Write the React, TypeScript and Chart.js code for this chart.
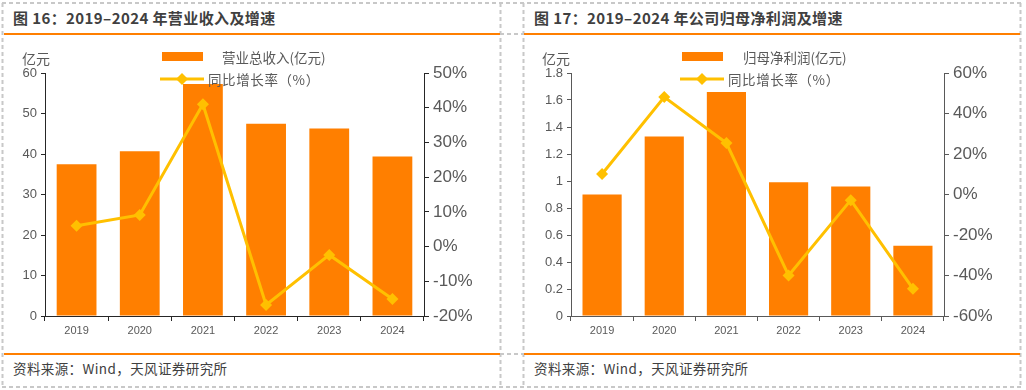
import React, { useEffect, useRef } from "react";
import { Chart, registerables } from "chart.js";

Chart.register(...registerables);

const years = ["2019", "2020", "2021", "2022", "2023", "2024"];
const revenue = [37.5, 40.7, 57.3, 47.5, 46.3, 39.4];
const revenueGrowth = [6.0, 9.1, 41.0, -16.8, -2.4, -15.1];
const profit = [0.9, 1.33, 1.66, 0.99, 0.96, 0.52];
const profitGrowth = [10.1, 48.1, 25.4, -40.0, -2.8, -46.5];

const leftTitle = "图 16：2019–2024 年营业收入及增速";
const rightTitle = "图 17：2019–2024 年公司归母净利润及增速";
const leftBarLabel = "营业总收入(亿元)";
const rightBarLabel = "归母净利润(亿元)";
const lineLabel = "同比增长率（%）";
const unitLabel = "亿元";
const sourceText = "资料来源：Wind，天风证券研究所";

const BAR = "#FF7F00";
const LINE = "#FFC000";
const TXT = "#595959";
const NUMFONT = "'Liberation Sans', Arial, sans-serif";
const CJK = "'Noto Sans CJK SC', 'Liberation Sans', sans-serif";

type PanelProps = {
  x: number;
  canvasW: number;
  yW: number;
  y1W: number;
  padR: number;
  title: string;
  barLabel: string;
  bars: number[];
  growth: number[];
  yMax: number;
  yStep: number;
  y1Min: number;
  y1Max: number;
  y1Step: number;
  axisColor: string;
  legendBarX: number;
  legendBarTextX: number;
  legendLineTextX: number;
  unitX: number;
};

function Panel(p: PanelProps) {
  const ref = useRef<HTMLCanvasElement | null>(null);
  useEffect(() => {
    if (!ref.current) return;
    const chart = new Chart(ref.current, {
      type: "bar",
      data: {
        labels: years,
        datasets: [
          {
            type: "line",
            label: lineLabel,
            data: p.growth,
            yAxisID: "y1",
            borderColor: LINE,
            backgroundColor: LINE,
            borderWidth: 3,
            pointStyle: "rectRot",
            pointRadius: 6,
            pointBorderWidth: 0,
            tension: 0,
            order: 0,
          } as any,
          {
            type: "bar",
            label: p.barLabel,
            data: p.bars,
            yAxisID: "y",
            backgroundColor: BAR,
            barPercentage: 0.63,
            categoryPercentage: 1,
            order: 1,
          } as any,
        ],
      },
      options: {
        responsive: false,
        animation: false,
        layout: { padding: { left: 0, right: p.padR, top: 33, bottom: 4 } },
        plugins: { legend: { display: false }, tooltip: { enabled: false } },
        scales: {
          x: {
            grid: {
              display: true,
              drawOnChartArea: false,
              offset: true,
              tickLength: 5,
              color: p.axisColor,
            },
            border: { display: true, color: p.axisColor, width: 1 },
            ticks: { color: TXT, font: { size: 11, family: NUMFONT }, padding: 3 },
            afterFit: (s: any) => {
              s.height = 25;
            },
          },
          y: {
            position: "left",
            min: 0,
            max: p.yMax,
            ticks: {
              stepSize: p.yStep,
              color: TXT,
              font: { size: 13, family: NUMFONT },
              padding: 4,
              callback: (v: any) => String(Math.round(Number(v) * 10) / 10),
            },
            grid: {
              display: true,
              drawOnChartArea: false,
              tickLength: 4,
              color: p.axisColor,
            },
            border: { display: true, color: p.axisColor, width: 1 },
            afterFit: (s: any) => {
              s.width = p.yW;
            },
          },
          y1: {
            position: "right",
            min: p.y1Min,
            max: p.y1Max,
            ticks: {
              stepSize: p.y1Step,
              color: TXT,
              font: { size: 17, family: NUMFONT },
              padding: 4,
              callback: (v: any) => Math.round(Number(v)) + "%",
            },
            grid: {
              display: true,
              drawOnChartArea: false,
              tickLength: 5,
              color: p.axisColor,
            },
            border: { display: true, color: p.axisColor, width: 1 },
            afterFit: (s: any) => {
              s.width = p.y1W;
            },
          },
        },
      } as any,
    });
    return () => chart.destroy();
  }, []);

  return (
    <>
      <div
        style={{
          position: "absolute",
          left: p.x + 10,
          top: 8,
          fontFamily: CJK,
          fontWeight: 700,
          fontSize: 15,
          letterSpacing: "0.4px",
          lineHeight: "20px",
          color: "#404040",
          whiteSpace: "nowrap",
        }}
      >
        {p.title}
      </div>
      <canvas
        ref={ref}
        width={p.canvasW}
        height={305}
        style={{ position: "absolute", left: p.x + 2, top: 40, width: p.canvasW, height: 305 }}
      />
      <div
        style={{
          position: "absolute",
          left: p.unitX,
          top: 48,
          fontFamily: CJK,
          fontSize: 14,
          lineHeight: "20px",
          color: TXT,
        }}
      >
        {unitLabel}
      </div>
      <div
        style={{
          position: "absolute",
          left: p.legendBarX,
          top: 52,
          width: 41,
          height: 9,
          background: BAR,
        }}
      />
      <div
        style={{
          position: "absolute",
          left: p.legendBarTextX,
          top: 47,
          fontFamily: CJK,
          fontSize: 13.5,
          lineHeight: "20px",
          color: TXT,
          whiteSpace: "nowrap",
        }}
      >
        {p.barLabel}
      </div>
      <svg
        width={46}
        height={16}
        style={{ position: "absolute", left: p.legendBarX - 2, top: 71 }}
      >
        <line x1={0} y1={8} x2={44} y2={8} stroke={LINE} strokeWidth={3} />
        <polygon points="22,2 28,8 22,14 16,8" fill={LINE} />
      </svg>
      <div
        style={{
          position: "absolute",
          left: p.legendLineTextX,
          top: 69,
          fontFamily: CJK,
          fontSize: 13.5,
          letterSpacing: "0.6px",
          lineHeight: "20px",
          color: TXT,
          whiteSpace: "nowrap",
        }}
      >
        {lineLabel}
      </div>
      <div
        style={{
          position: "absolute",
          left: p.x + 10,
          top: 358,
          fontFamily: CJK,
          fontSize: 13.5,
          letterSpacing: "0.4px",
          lineHeight: "20px",
          color: "#404040",
          whiteSpace: "nowrap",
        }}
      >
        {sourceText}
      </div>
    </>
  );
}

function Frame() {
  const g = "#C8C8C8";
  const dash = "4 3";
  return (
    <svg width={1026} height={390} style={{ position: "absolute", left: 0, top: 0 }}>
      <line x1={2} y1={3} x2={1021} y2={3} stroke={g} strokeWidth={2} strokeDasharray={dash} />
      <line x1={2} y1={387} x2={1021} y2={387} stroke={g} strokeWidth={2} strokeDasharray={dash} />
      <line x1={2.5} y1={3} x2={2.5} y2={387} stroke={g} strokeWidth={2} strokeDasharray={dash} />
      <line x1={1020.5} y1={3} x2={1020.5} y2={387} stroke={g} strokeWidth={2} strokeDasharray={dash} />
      <line x1={500.5} y1={3} x2={500.5} y2={387} stroke={g} strokeWidth={2} strokeDasharray={dash} />
      <line x1={523.5} y1={3} x2={523.5} y2={387} stroke={g} strokeWidth={2} strokeDasharray={dash} />
      <line x1={500} y1={34} x2={524} y2={34} stroke={g} strokeWidth={2} strokeDasharray={dash} />
      <line x1={500} y1={354} x2={524} y2={354} stroke={g} strokeWidth={2} strokeDasharray={dash} />
      <line x1={4} y1={34} x2={500} y2={34} stroke={BAR} strokeWidth={2} />
      <line x1={524} y1={34} x2={1020} y2={34} stroke={BAR} strokeWidth={2} />
      <line x1={4} y1={354} x2={500} y2={354} stroke={BAR} strokeWidth={2} />
      <line x1={524} y1={354} x2={1020} y2={354} stroke={BAR} strokeWidth={2} />
    </svg>
  );
}

export default function App() {
  return (
    <div
      style={{
        position: "absolute",
        left: 0,
        top: 0,
        width: 1026,
        height: 390,
        background: "#fff",
        overflow: "hidden",
      }}
    >
      <Frame />
      <Panel
        x={3}
        canvasW={495}
        yW={40}
        y1W={70}
        padR={6}
        title={leftTitle}
        barLabel={leftBarLabel}
        bars={revenue}
        growth={revenueGrowth}
        yMax={60}
        yStep={10}
        y1Min={-20}
        y1Max={50}
        y1Step={10}
        axisColor="#262626"
        legendBarX={162}
        legendBarTextX={222}
        legendLineTextX={208}
        unitX={22}
      />
      <Panel
        x={524}
        canvasW={492}
        yW={45}
        y1W={68}
        padR={6}
        title={rightTitle}
        barLabel={rightBarLabel}
        bars={profit}
        growth={profitGrowth}
        yMax={1.8}
        yStep={0.2}
        y1Min={-60}
        y1Max={60}
        y1Step={20}
        axisColor="#595959"
        legendBarX={682}
        legendBarTextX={743}
        legendLineTextX={728}
        unitX={542}
      />
    </div>
  );
}
